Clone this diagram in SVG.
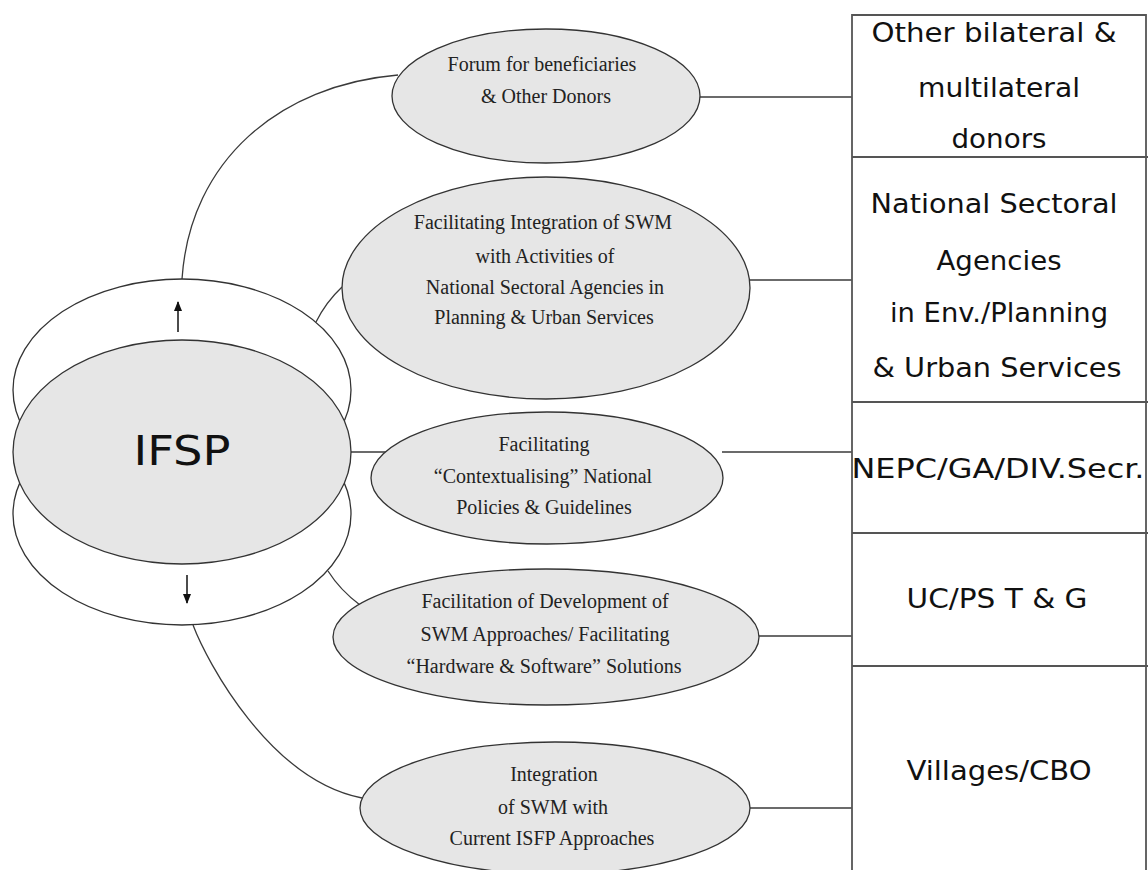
<svg xmlns="http://www.w3.org/2000/svg" width="1148" height="870" viewBox="0 0 1148 870">
<style>
.bg{fill:#ffffff}
.conn{fill:none;stroke:#3a3a3a;stroke-width:1.3}
.oval{fill:#e6e6e6;stroke:#333333;stroke-width:1.3}
.ring{fill:#ffffff;stroke:#333333;stroke-width:1.3}
.box{fill:#ffffff;stroke:#555555;stroke-width:1.8}
.et{font-family:"Liberation Serif","Times New Roman",serif;font-size:20px;fill:#222222;text-anchor:middle}
.bt{font-family:"DejaVu Sans","Liberation Sans",sans-serif;font-size:26px;fill:#111111;text-anchor:middle}
.ifsp{font-family:"DejaVu Sans","Liberation Sans",sans-serif;font-size:41px;fill:#111111;text-anchor:middle}
.arr{stroke:#111111;stroke-width:1.5;fill:none}
</style>
<defs>
<marker id="ah" viewBox="0 0 10 10" refX="9" refY="5" markerWidth="10" markerHeight="10" markerUnits="userSpaceOnUse" orient="auto">
<path d="M0,1 L10,5 L0,9 Z" fill="#111111"/>
</marker>
</defs>
<rect class="bg" x="0" y="0" width="1148" height="870"/>

<g id="connectors">
<path class="conn" d="M182,279 C190,160 280,85 398,75"/>
<path class="conn" d="M316,322 Q326,302 342,287"/>
<line class="conn" x1="350" y1="452" x2="386" y2="452"/>
<path class="conn" d="M328,571 Q340,590 360,605"/>
<path class="conn" d="M193,625 C207,662 270,780 362,798"/>
<line class="conn" x1="699" y1="97" x2="852" y2="97"/>
<line class="conn" x1="749" y1="280" x2="852" y2="280"/>
<line class="conn" x1="722" y1="452" x2="852" y2="452"/>
<line class="conn" x1="758" y1="636" x2="852" y2="636"/>
<line class="conn" x1="749" y1="808" x2="852" y2="808"/>
</g>

<g id="ifsp">
<ellipse class="ring" cx="182" cy="390" rx="169" ry="111"/>
<ellipse class="ring" cx="182" cy="514" rx="169" ry="111"/>
<ellipse class="oval" cx="182" cy="452" rx="169" ry="112"/>
<text class="ifsp" x="182" y="465" textLength="97" lengthAdjust="spacingAndGlyphs">IFSP</text>
<line class="arr" x1="178" y1="332" x2="178" y2="302" marker-end="url(#ah)"/>
<line class="arr" x1="187" y1="575" x2="187" y2="603" marker-end="url(#ah)"/>
</g>

<g id="n-forum">
<ellipse class="oval" cx="546" cy="96" rx="154" ry="67"/>
<text class="et" x="542" y="71">Forum for beneficiaries</text>
<text class="et" x="546" y="103">&amp; Other Donors</text>
</g>

<g id="n-integration-national">
<ellipse class="oval" cx="546" cy="288" rx="204" ry="111"/>
<text class="et" x="543" y="229">Facilitating Integration of SWM</text>
<text class="et" x="545" y="263">with Activities of</text>
<text class="et" x="545" y="294">National Sectoral Agencies in</text>
<text class="et" x="544" y="324">Planning &amp; Urban Services</text>
</g>

<g id="n-contextualising">
<ellipse class="oval" cx="547" cy="478" rx="176" ry="66"/>
<text class="et" x="544" y="451">Facilitating</text>
<text class="et" x="543" y="483">“Contextualising” National</text>
<text class="et" x="544" y="514">Policies &amp; Guidelines</text>
</g>

<g id="n-development">
<ellipse class="oval" cx="546" cy="637" rx="213" ry="68"/>
<text class="et" x="545" y="608">Facilitation of Development of</text>
<text class="et" x="545" y="641">SWM Approaches/ Facilitating</text>
<text class="et" x="544" y="673">“Hardware &amp; Software” Solutions</text>
</g>

<g id="n-isfp">
<ellipse class="oval" cx="555" cy="808" rx="195" ry="66"/>
<text class="et" x="554" y="781">Integration</text>
<text class="et" x="553" y="814">of SWM with</text>
<text class="et" x="552" y="845">Current ISFP Approaches</text>
</g>

<g id="right-column">
<path class="box" d="M852,870 L852,15 L1146,15 L1146,870"/>
<line class="box" x1="852" y1="157" x2="1148" y2="157"/>
<line class="box" x1="852" y1="402" x2="1148" y2="402"/>
<line class="box" x1="852" y1="533" x2="1148" y2="533"/>
<line class="box" x1="852" y1="666" x2="1148" y2="666"/>
</g>

<g id="b-donors">
<text class="bt" x="994" y="42" textLength="245" lengthAdjust="spacingAndGlyphs">Other bilateral &amp;</text>
<text class="bt" x="999" y="97" textLength="162" lengthAdjust="spacingAndGlyphs">multilateral</text>
<text class="bt" x="999" y="148" textLength="95" lengthAdjust="spacingAndGlyphs">donors</text>
</g>
<g id="b-national">
<text class="bt" x="994" y="213" textLength="247" lengthAdjust="spacingAndGlyphs">National Sectoral</text>
<text class="bt" x="999" y="270" textLength="125" lengthAdjust="spacingAndGlyphs">Agencies</text>
<text class="bt" x="999" y="322" textLength="218" lengthAdjust="spacingAndGlyphs">in Env./Planning</text>
<text class="bt" x="997" y="377" textLength="249" lengthAdjust="spacingAndGlyphs">&amp; Urban Services</text>
</g>
<g id="b-nepc">
<text class="bt" x="998" y="478" textLength="293" lengthAdjust="spacingAndGlyphs">NEPC/GA/DIV.Secr.</text>
</g>
<g id="b-ucps">
<text class="bt" x="997" y="608" textLength="181" lengthAdjust="spacingAndGlyphs">UC/PS T &amp; G</text>
</g>
<g id="b-villages">
<text class="bt" x="999" y="780" textLength="185" lengthAdjust="spacingAndGlyphs">Villages/CBO</text>
</g>
</svg>
